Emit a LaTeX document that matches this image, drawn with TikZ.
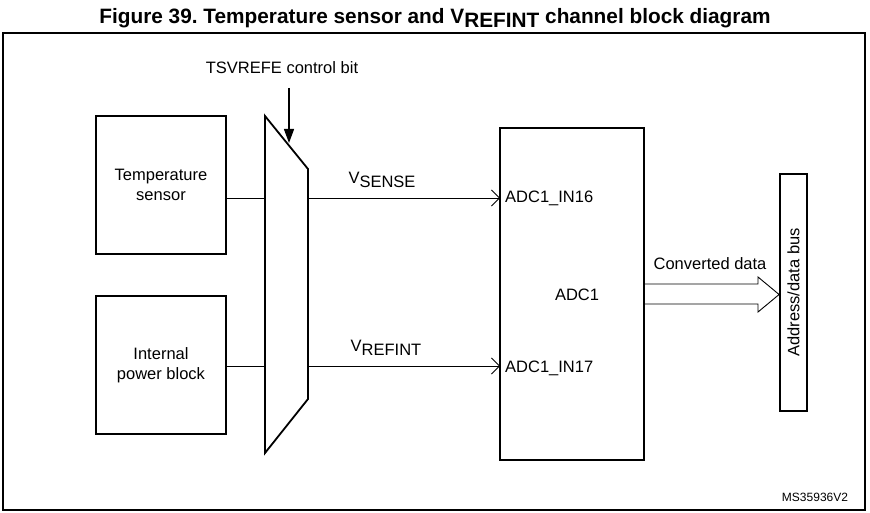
\documentclass[tikz,border=0pt]{standalone}
\usepackage{fontspec}
\setmainfont{Liberation Sans}
\usetikzlibrary{arrows.meta}
\newcommand\lowsub[1]{\raisebox{-0.5ex}{#1}}
\frenchspacing
\begin{document}
\begin{tikzpicture}[x=1pt,y=-1pt,
  font=\fontsize{16.5}{19}\selectfont,
  blk/.style={draw, line width=1.8pt, inner sep=0pt, align=center},
  wire/.style={line width=0.8pt},
  inarrow/.style={wire, -{Straight Barb[length=8pt,width=16pt,line width=0.8pt]}},
  lbl/.style={inner sep=0pt}]
\useasboundingbox (0,0) rectangle (870,513);
% title
\node[lbl, font=\bfseries\fontsize{20.8}{23}\selectfont] (title) at (435,18)
  {Figure 39. Temperature sensor and V\raisebox{-0.4ex}{REFINT} channel block diagram};
% frame
\draw[line width=1.8pt] (3,33) rectangle (865,510);
% source blocks
\node[blk, minimum width=130pt, minimum height=138pt] (temp) at (161,185) {Temperature\\[1pt]sensor};
\node[blk, minimum width=130pt, minimum height=138pt] (pwr) at (161,365) {Internal\\[1pt]power block};
% mux
\draw[line width=1.8pt, line join=miter] (265,116) -- (308,169) -- (308,399) -- (265,453) -- cycle;
\coordinate (muxinA) at (265,198);
\coordinate (muxinB) at (265,366);
\coordinate (muxoutA) at (308,198);
\coordinate (muxoutB) at (308,366);
\coordinate (ctrltop) at (289,88);
\coordinate (ctrltip) at (289,143);
% ADC
\node[blk, minimum width=144pt, minimum height=332pt] (adc) at (572,294) {};
\coordinate (adcinA) at (500,198);
\coordinate (adcinB) at (500,366);
\node[lbl, anchor=west] (in16) at (505,198) {ADC1\_IN16};
\node[lbl, anchor=west] (in17) at (505,368) {ADC1\_IN17};
\node[lbl] (adcl) at (577,295) {ADC1};
% bus
\node[blk, minimum width=27pt, minimum height=237pt] (bus) at (793.5,292.5) {};
\node[lbl, rotate=90] (busl) at (bus.center) {Address/data bus};
% control
\node[lbl] (ctrl) at (282,68) {TSVREFE control bit};
\draw[line width=1.3pt, -{Triangle[length=14pt,width=10pt]}] (ctrltop) -- (ctrltip);
% wires
\draw[wire] (temp.east |- muxinA) -- (muxinA);
\draw[wire] (pwr.east |- muxinB) -- (muxinB);
\draw[inarrow] (muxoutA) -- (adcinA);
\draw[inarrow] (muxoutB) -- (adcinB);
\node[lbl] (vsense) at (382,180) {V\lowsub{SENSE}};
\node[lbl] (vrefint) at (386,348) {V\lowsub{REFINT}};
% wide arrow
\draw[line width=0.9pt, line join=miter] (adc.east |- 0,284) -- (758,284) -- (758,277) -- (bus.west |- 0,294.5) -- (758,312) -- (758,304) -- (adc.east |- 0,304);
\node[lbl] (conv) at (710,264) {Converted data};
% ref
\node[lbl, font=\fontsize{12}{14}\selectfont] (ref) at (815,497) {MS35936V2};
\end{tikzpicture}
\end{document}
